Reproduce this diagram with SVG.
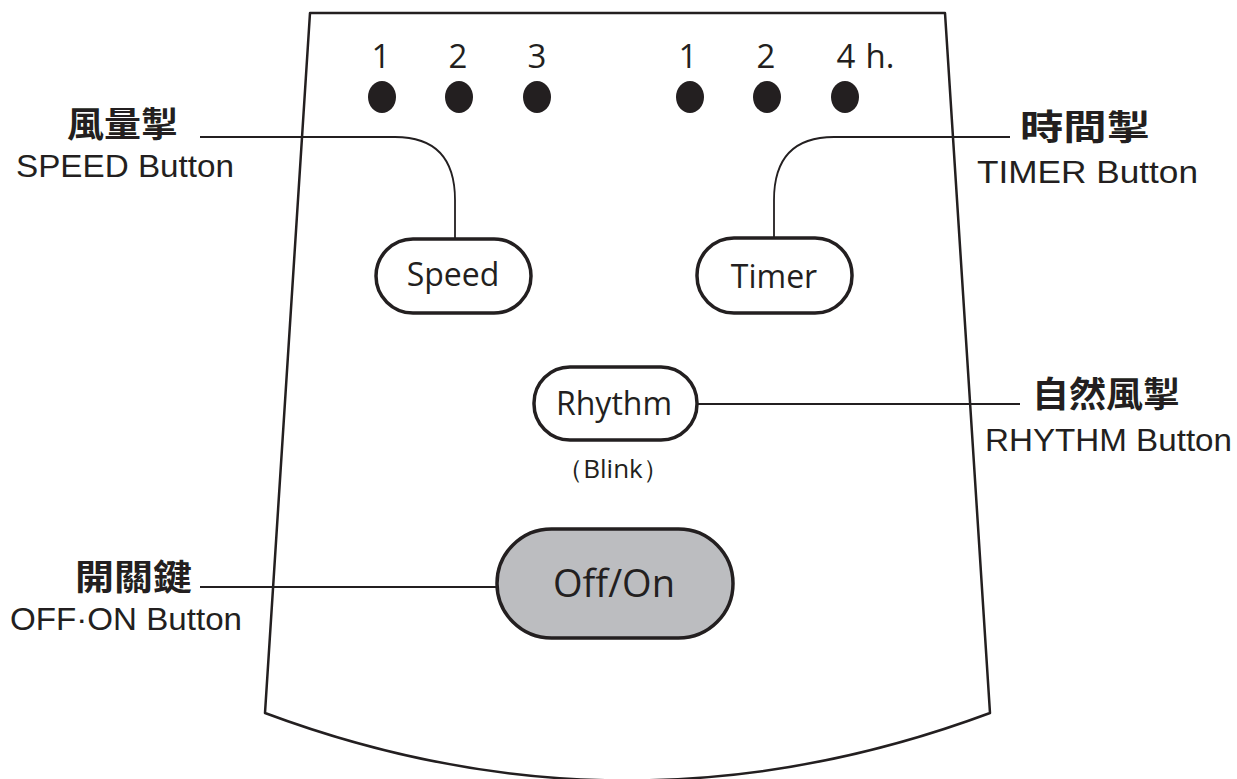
<svg xmlns="http://www.w3.org/2000/svg" width="1237" height="779" viewBox="0 0 1237 779">
<style>
.panel{fill:#fff;stroke:#231f20;stroke-width:2.5;stroke-linejoin:round}
.btn{fill:#fff;stroke:#231f20;stroke-width:3.5}
.btn-gray{fill:#bcbdc0;stroke:#231f20;stroke-width:3.5}
.num{font-family:"Open Sans","Noto Sans",sans-serif;font-size:33px;fill:#231f20;text-anchor:middle}
.bt{font-family:"Open Sans","Noto Sans",sans-serif;font-size:32px;fill:#231f20;text-anchor:middle}
.zh{font-family:"Noto Sans CJK TC","Noto Sans CJK SC",sans-serif;font-size:35px;font-weight:bold;fill:#231f20}
.en{font-family:"Liberation Sans",Arial,sans-serif;font-size:32px;fill:#231f20}
.conn{fill:none;stroke:#231f20;stroke-width:1.8}
.dot{fill:#231f20}
</style>
<g id="panel">
<path class="panel" d="M310,13 L945,13 L990,713 Q627,848 265,713 Z"/>
</g>
<g id="indicators">
<text class="num" x="381" y="68">1</text>
<text class="num" x="458" y="68">2</text>
<text class="num" x="537" y="68">3</text>
<text class="num" x="688" y="68">1</text>
<text class="num" x="766" y="68">2</text>
<text class="num" x="846" y="68">4</text>
<text class="num" x="880" y="68">h.</text>
<ellipse class="dot" cx="382" cy="97" rx="14" ry="16"/>
<ellipse class="dot" cx="459" cy="97" rx="14" ry="16"/>
<ellipse class="dot" cx="537" cy="97" rx="14" ry="16"/>
<ellipse class="dot" cx="690" cy="97" rx="14" ry="16"/>
<ellipse class="dot" cx="767" cy="97" rx="14" ry="16"/>
<ellipse class="dot" cx="845" cy="97" rx="14" ry="16"/>
</g>
<g id="connectors">
<path class="conn" d="M200,137 L395,137 Q455,137 455,200 L455,238"/>
<path class="conn" d="M774,238 L774,200 Q774,137 834,137 L1010,137"/>
<path class="conn" d="M697,404 L1020,404"/>
<path class="conn" d="M200,587 L496,587"/>
</g>
<g id="speed-button">
<rect class="btn" x="376" y="239" width="155" height="74" rx="37"/>
<text class="bt" x="453" y="286">Speed</text>
</g>
<g id="timer-button">
<rect class="btn" x="697" y="238" width="155" height="75" rx="37"/>
<text class="bt" x="774" y="288">Timer</text>
</g>
<g id="rhythm-button">
<rect class="btn" x="534" y="367" width="163" height="73" rx="36"/>
<text class="bt" x="614" y="415">Rhythm</text>
<text class="bt" x="613" y="478" style="font-size:26px">（Blink）</text>
</g>
<g id="onoff-button">
<rect class="btn-gray" x="497" y="529" width="236" height="109" rx="54.5"/>
<text class="bt" x="614" y="597" style="font-size:38px">Off/On</text>
</g>
<g id="label-speed">
<text class="zh" x="67" y="137" textLength="111" lengthAdjust="spacingAndGlyphs">風量掣</text>
<text class="en" x="16" y="177" textLength="218" lengthAdjust="spacingAndGlyphs">SPEED Button</text>
</g>
<g id="label-timer">
<text class="zh" x="1020" y="140" textLength="130" lengthAdjust="spacingAndGlyphs">時間掣</text>
<text class="en" x="977" y="183" textLength="221" lengthAdjust="spacingAndGlyphs">TIMER Button</text>
</g>
<g id="label-rhythm">
<text class="zh" x="1032" y="407" textLength="148" lengthAdjust="spacingAndGlyphs">自然風掣</text>
<text class="en" x="985" y="451" textLength="247" lengthAdjust="spacingAndGlyphs">RHYTHM Button</text>
</g>
<g id="label-onoff">
<text class="zh" x="75" y="590" textLength="117" lengthAdjust="spacingAndGlyphs">開關鍵</text>
<text class="en" x="10" y="630" textLength="232" lengthAdjust="spacingAndGlyphs">OFF·ON Button</text>
</g>
</svg>
